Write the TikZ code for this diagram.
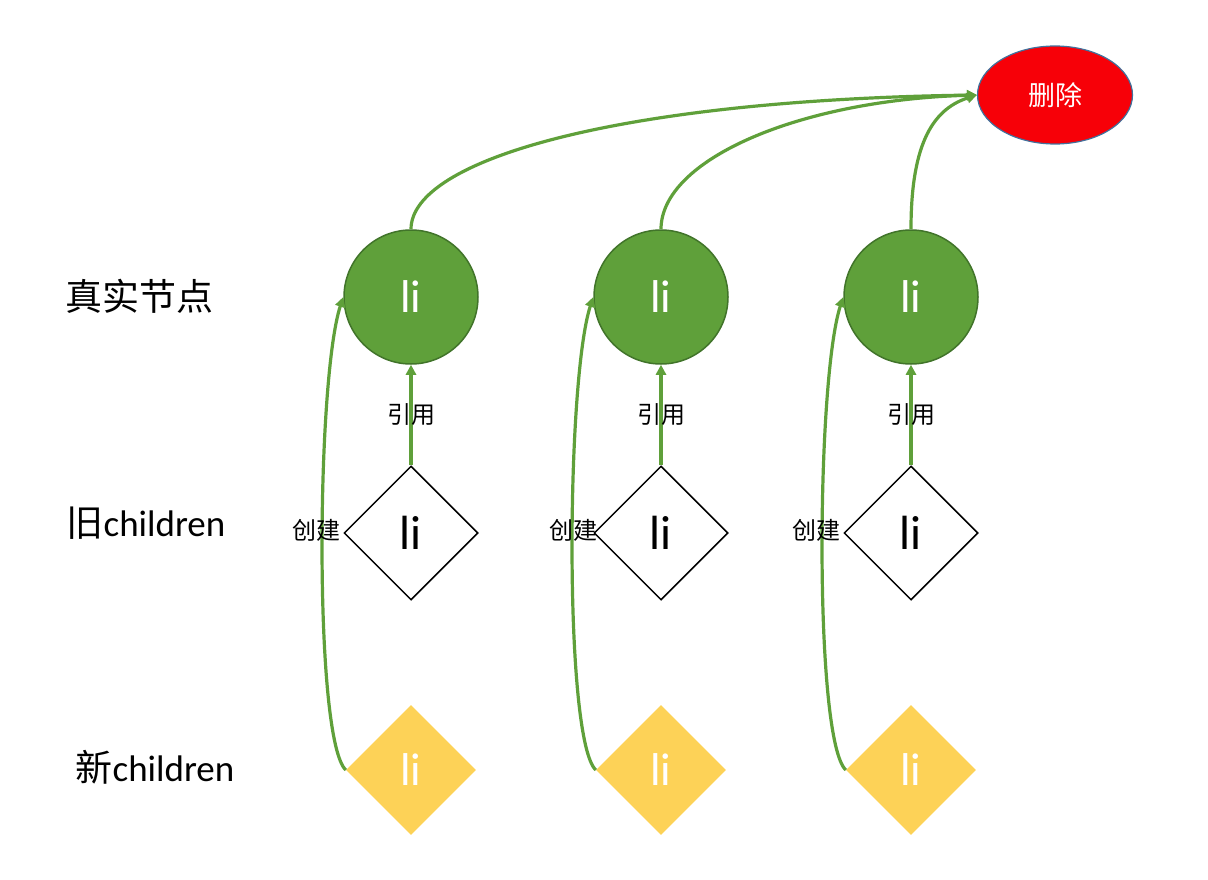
\documentclass[tikz,border=0pt]{standalone}
\usepackage{fontspec}
\setmainfont{Carlito}
\newfontfamily\cjk{Noto Sans CJK SC}
\usepackage{tikz}
\usetikzlibrary{arrows.meta, positioning, shapes.geometric, calc}
\definecolor{leafgreen}{HTML}{5FA03A}
\definecolor{leafdark}{HTML}{41742A}
\definecolor{newyellow}{HTML}{FDD257}
\definecolor{delred}{HTML}{F70008}
\definecolor{delblue}{HTML}{41719C}

\begin{document}
\begin{tikzpicture}[x=1pt, y=-1pt,
    realnode/.style={circle, fill=leafgreen, draw=leafdark, line width=1.5pt, minimum size=134pt, inner sep=0pt, text=white, font=\fontsize{46}{50}\selectfont},
    oldkid/.style={diamond, aspect=1, draw=black, line width=1.5pt, fill=white, minimum size=134pt, inner sep=0pt, font=\fontsize{48}{50}\selectfont},
    newkid/.style={diamond, aspect=1, fill=newyellow, minimum size=130pt, inner sep=0pt, text=white, font=\fontsize{46}{50}\selectfont},
    link/.style={leafgreen, line width=3.2pt, -{Triangle[length=10pt, width=10pt]}},
    rowlabel/.style={font=\fontsize{37}{40}\selectfont},
    small/.style={font=\cjk\fontsize{24}{26}\selectfont}]
    \useasboundingbox (0,0) rectangle (1208,880);

    % Row labels
    \node[rowlabel] (lblreal) at (139,296) {\cjk 真实节点};
    \node[rowlabel] (lblold) at (146,523) {{\cjk 旧}children};
    \node[rowlabel] (lblnew) at (155,767) {{\cjk 新}children};

    % Delete target
    \node[ellipse, fill=delred, draw=delblue, line width=1.2pt, minimum width=155pt, minimum height=98pt, inner sep=0pt, text=white, font=\cjk\fontsize{27}{30}\selectfont] (del) at (1055,95) {删除};

    % Columns
    \foreach \i/\x/\dx in {1/411/1, 2/661/8, 3/911/1} {
        \node[realnode] (real\i) at (\x,297) {li};
        \node[oldkid] (old\i) at (\x,533) {li};
        \node[newkid] (new\i) at (\x,770) {li};

        % reference and create
        \draw[link] (old\i.north) -- (real\i.south) node[midway, small, text=black] {引用};
        \draw[link] (new\i.west) .. controls ($(new\i.west)+(-32,-30)$) and ($(real\i.west)+(-27,83)$) .. (real\i.west);
        \node[small, anchor=east] (make\i) at ($(old\i.west)+(\dx,-3)$) {创建};
    }

    % Deletion
    \draw[link] (real1.north) .. controls ($(real1.north)+(0,-70)$) and (620,100) .. (del.west);
    \draw[link] (real2.north) .. controls ($(real2.north)+(0,-70)$) and (800,100) .. (del.west);
    \draw[link] (real3.north) .. controls ($(real3.north)+(0,-80)$) and (930,110) .. (del.west);
\end{tikzpicture}
\end{document}
